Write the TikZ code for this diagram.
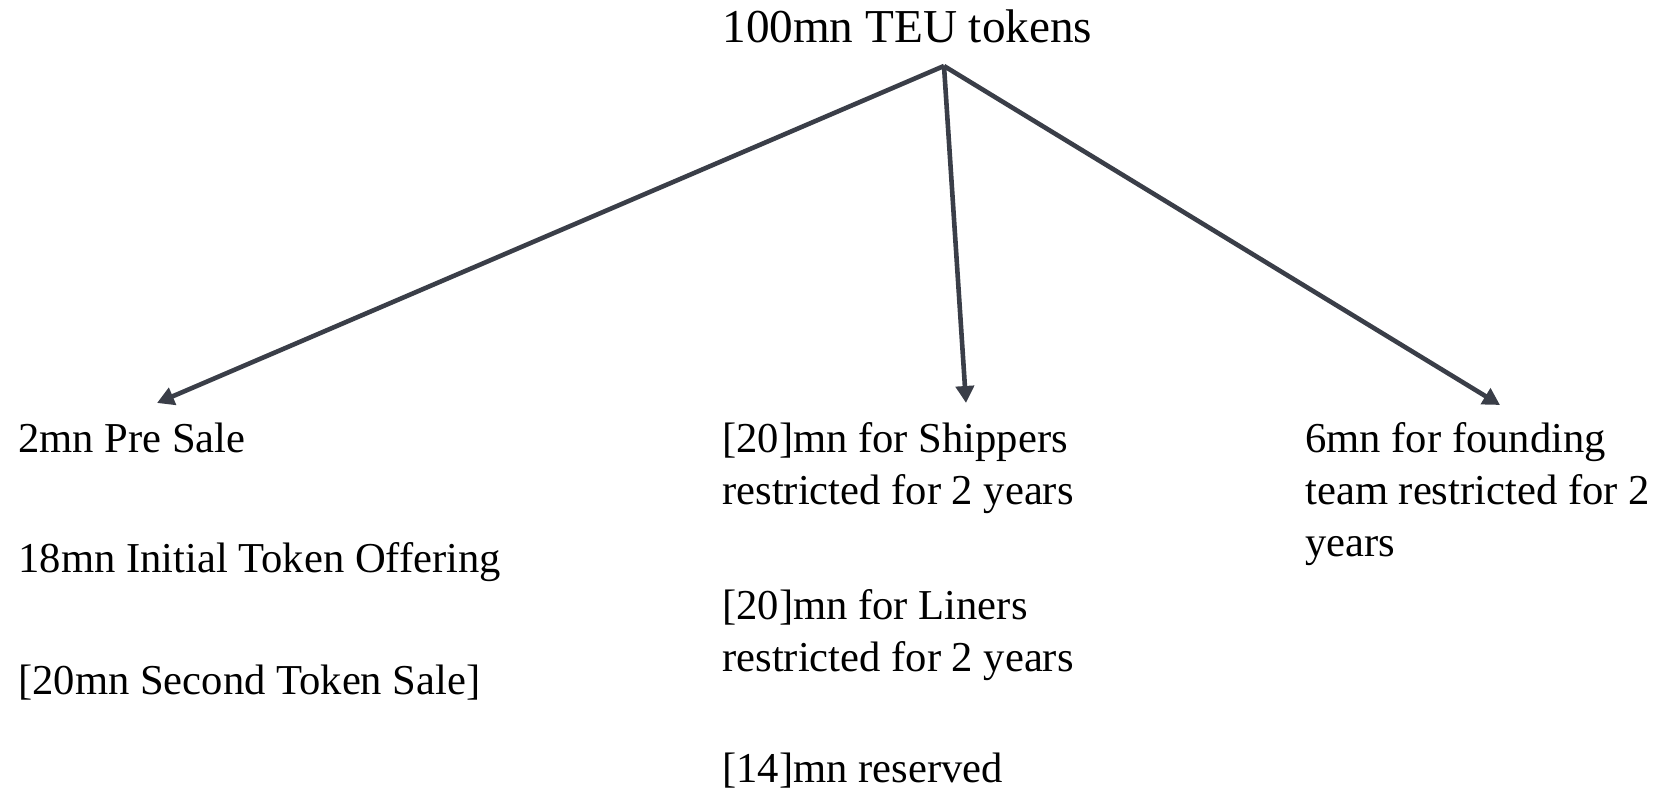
\documentclass[tikz,border=0pt]{standalone}
\usepackage{fontspec}
\setmainfont{Liberation Serif}
\usetikzlibrary{arrows.meta}
\definecolor{arrowgray}{RGB}{58,62,72}
\begin{document}
\begin{tikzpicture}[x=0.5pt,y=-0.5pt,
 lbl/.style={anchor=base west,inner sep=0pt,align=left,font=\fontsize{21.3}{26}\selectfont},
 share/.style={draw=arrowgray,line width=2.3pt,-{Triangle[length=8.5pt,width=9pt]}}]
\useasboundingbox (0,0) rectangle (1666,795);
\node[anchor=base west,inner sep=0pt,font=\fontsize{23.6}{28}\selectfont] (total) at (722,43){100mn TEU tokens};
\coordinate (top) at (944,66);
\coordinate (sale) at (157,403);\coordinate (ship) at (966,403);\coordinate (found) at (1500,405);
\node[lbl] (pre) at (18,453){2mn Pre Sale};
\node[lbl] (ito) at (18,573){18mn Initial Token Offering};
\node[lbl] (second) at (18,695){[20mn Second Token Sale]};
\node[lbl] (shippers) at (722,505){[20]mn for Shippers\\restricted for 2 years};
\node[lbl] (liners) at (722,672){[20]mn for Liners\\restricted for 2 years};
\node[lbl] (reserved) at (722,783){[14]mn reserved};
\node[lbl] (team) at (1305,557){6mn for founding\\team restricted for 2\\years};
\foreach \t in {sale,ship,found}{\draw[share] (top)--(\t);}
\end{tikzpicture}
\end{document}
